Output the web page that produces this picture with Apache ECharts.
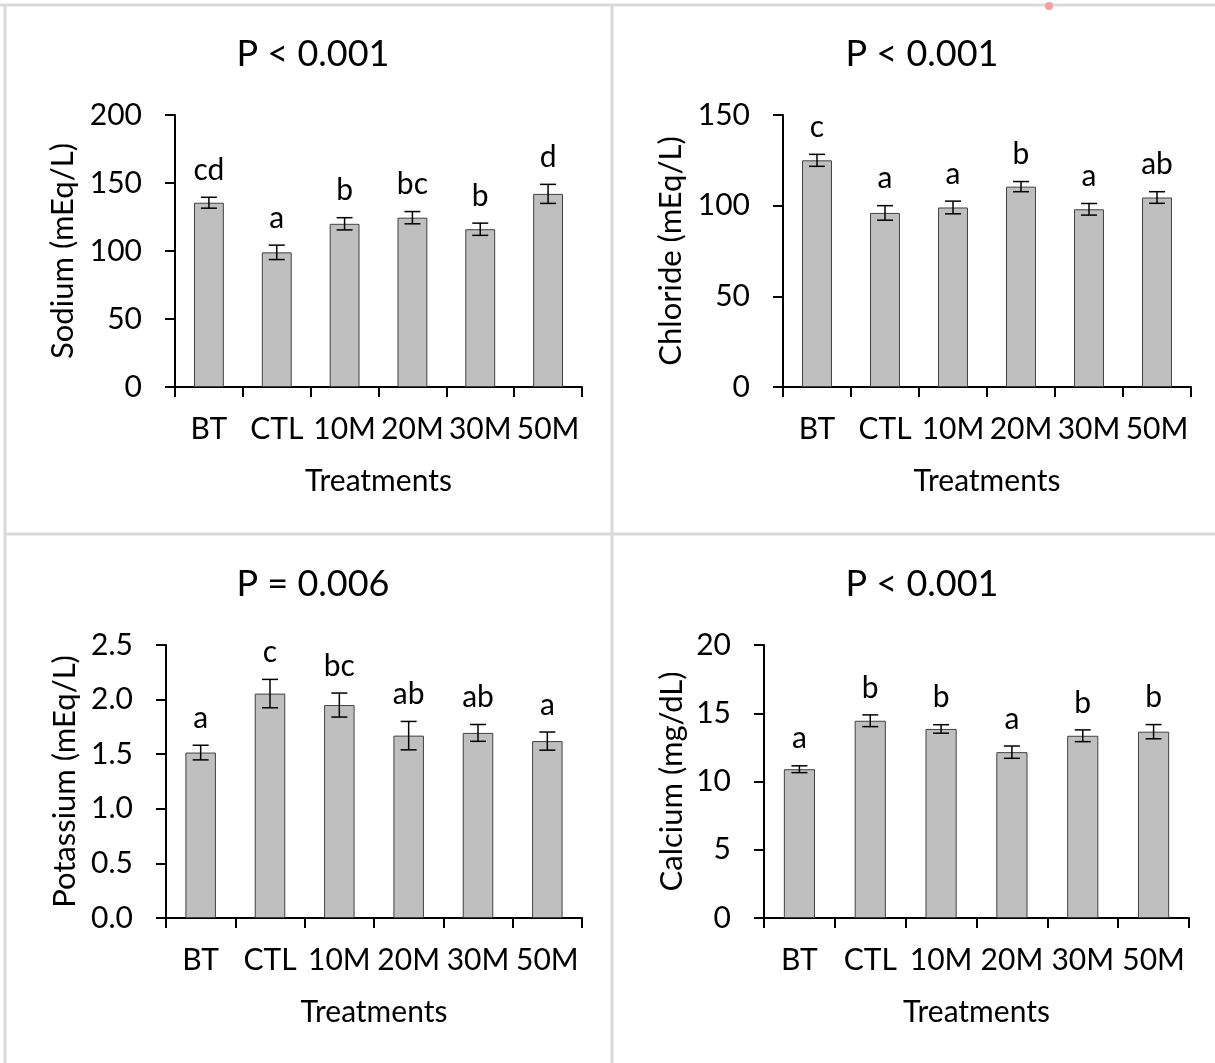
<!DOCTYPE html>
<html>
<head>
<meta charset="utf-8">
<script src="https://cdn.jsdelivr.net/npm/echarts@6/dist/echarts.min.js"></script>
<style>
  html, body { margin: 0; padding: 0; background: #fff; }
  #main { width: 1215px; height: 1063px; }
</style>
</head>
<body>
<div id="main"></div>
<script>
var categories = ['BT', 'CTL', '10M', '20M', '30M', '50M'];

var sodiumMean = [135.5, 99, 120, 124.5, 116, 142];
var sodiumErr = [4, 5.3, 4.5, 4.5, 4.5, 7];
var sodiumLetters = ['cd', 'a', 'b', 'bc', 'b', 'd'];

var chlorideMean = [125, 96, 99, 110.5, 98, 104.5];
var chlorideErr = [3.3, 4, 3.5, 2.8, 3.2, 3.2];
var chlorideLetters = ['c', 'a', 'a', 'b', 'a', 'ab'];

var potassiumMean = [1.515, 2.055, 1.95, 1.67, 1.695, 1.62];
var potassiumErr = [0.067, 0.13, 0.11, 0.13, 0.077, 0.083];
var potassiumLetters = ['a', 'c', 'bc', 'ab', 'ab', 'a'];

var calciumMean = [10.9, 14.45, 13.85, 12.15, 13.35, 13.65];
var calciumErr = [0.25, 0.43, 0.31, 0.45, 0.43, 0.52];
var calciumLetters = ['a', 'b', 'b', 'a', 'b', 'b'];

var FONT = 'Lato, "Open Sans", sans-serif';

var myChart = echarts.init(document.getElementById('main'));

// one panel = grid + axes + bars + error bars with letters
var panels = [
    {title: 'P < 0.001', name: 'Sodium (mEq/L)', mean: sodiumMean, err: sodiumErr, letters: sodiumLetters,
     max: 200, interval: 50, dec: 0, grid: {left: 175, top: 115, width: 407, height: 272}, tx: 308, ty: 31, nameGap: 97},
    {title: 'P < 0.001', name: 'Chloride (mEq/L)', mean: chlorideMean, err: chlorideErr, letters: chlorideLetters,
     max: 150, interval: 50, dec: 0, grid: {left: 783, top: 115, width: 408, height: 272}, tx: 917, ty: 31, nameGap: 97},
    {title: 'P = 0.006', name: 'Potassium (mEq/L)', mean: potassiumMean, err: potassiumErr, letters: potassiumLetters,
     max: 2.5, interval: 0.5, dec: 1, grid: {left: 166, top: 645, width: 416, height: 273}, tx: 308, ty: 561, nameGap: 86},
    {title: 'P < 0.001', name: 'Calcium (mg/dL)', mean: calciumMean, err: calciumErr, letters: calciumLetters,
     max: 20, interval: 5, dec: 0, grid: {left: 764, top: 645, width: 425, height: 273}, tx: 917, ty: 561, nameGap: 77}
];

var grids = [], xAxes = [], yAxes = [], series = [], titles = [];

panels.forEach(function (p, k) {
    grids.push(p.grid);
    titles.push({
        text: p.title, left: p.tx, top: p.ty, textAlign: 'center',
        textStyle: {fontFamily: FONT, fontSize: 36, fontWeight: 'normal', color: '#000'}
    });
    xAxes.push({
        type: 'category', gridIndex: k, data: categories,
        name: 'Treatments', nameLocation: 'middle', nameGap: 79,
        nameTextStyle: {fontFamily: FONT, fontSize: 30, color: '#000'},
        axisLine: {lineStyle: {color: '#000', width: 2}},
        axisTick: {show: true, length: 10, lineStyle: {color: '#000', width: 2}},
        axisLabel: {interval: 0, margin: 27, fontFamily: FONT, fontSize: 30, color: '#000'}
    });
    yAxes.push({
        type: 'value', gridIndex: k, min: 0, max: p.max, interval: p.interval,
        name: p.name, nameLocation: 'middle', nameGap: p.nameGap,
        nameTextStyle: {fontFamily: FONT, fontSize: 31, color: '#000'},
        splitLine: {show: false},
        axisLine: {show: true, lineStyle: {color: '#000', width: 2}},
        axisTick: {show: true, length: 10, lineStyle: {color: '#000', width: 2}},
        axisLabel: {
            margin: 33, fontFamily: FONT, fontSize: 30, color: '#000',
            formatter: function (v) { return v.toFixed(p.dec); }
        }
    });
    series.push({
        type: 'bar', xAxisIndex: k, yAxisIndex: k, data: p.mean, barWidth: '44%',
        itemStyle: {color: '#bfbfbf', borderColor: '#404040', borderWidth: 1},
        silent: true
    });
    series.push({
        type: 'custom', xAxisIndex: k, yAxisIndex: k,
        data: p.mean.map(function (m, i) { return [i, m, p.err[i]]; }),
        renderItem: function (params, api) {
            var i = api.value(0), m = api.value(1), e = api.value(2);
            var hi = api.coord([i, m + e]);
            var lo = api.coord([i, m - e]);
            var hw = 8;
            var st = {stroke: '#000', lineWidth: 1.5};
            return {
                type: 'group',
                children: [
                    {type: 'line', shape: {x1: hi[0], y1: hi[1], x2: lo[0], y2: lo[1]}, style: st},
                    {type: 'line', shape: {x1: hi[0] - hw, y1: hi[1], x2: hi[0] + hw, y2: hi[1]}, style: st},
                    {type: 'line', shape: {x1: lo[0] - hw, y1: lo[1], x2: lo[0] + hw, y2: lo[1]}, style: st},
                    {type: 'text', style: {
                        text: p.letters[params.dataIndex], x: hi[0], y: hi[1] - 12,
                        align: 'center', verticalAlign: 'bottom',
                        fontFamily: FONT, fontSize: 30, fill: '#000'
                    }}
                ]
            };
        },
        silent: true, z: 5
    });
});

var border = {stroke: '#d9d9d9', lineWidth: 3};
var option = {
    animation: false,
    title: titles,
    grid: grids,
    xAxis: xAxes,
    yAxis: yAxes,
    series: series,
    graphic: [
        {type: 'line', shape: {x1: 0, y1: 5, x2: 1215, y2: 5}, style: border},
        {type: 'line', shape: {x1: 5, y1: 5, x2: 5, y2: 1063}, style: border},
        {type: 'line', shape: {x1: 612, y1: 5, x2: 612, y2: 1063}, style: border},
        {type: 'line', shape: {x1: 5, y1: 534, x2: 1215, y2: 534}, style: border},
        {type: 'circle', shape: {cx: 1049, cy: 6, r: 4}, style: {fill: '#f4a0a0'}}
    ]
};

myChart.setOption(option);
</script>
</body>
</html>
